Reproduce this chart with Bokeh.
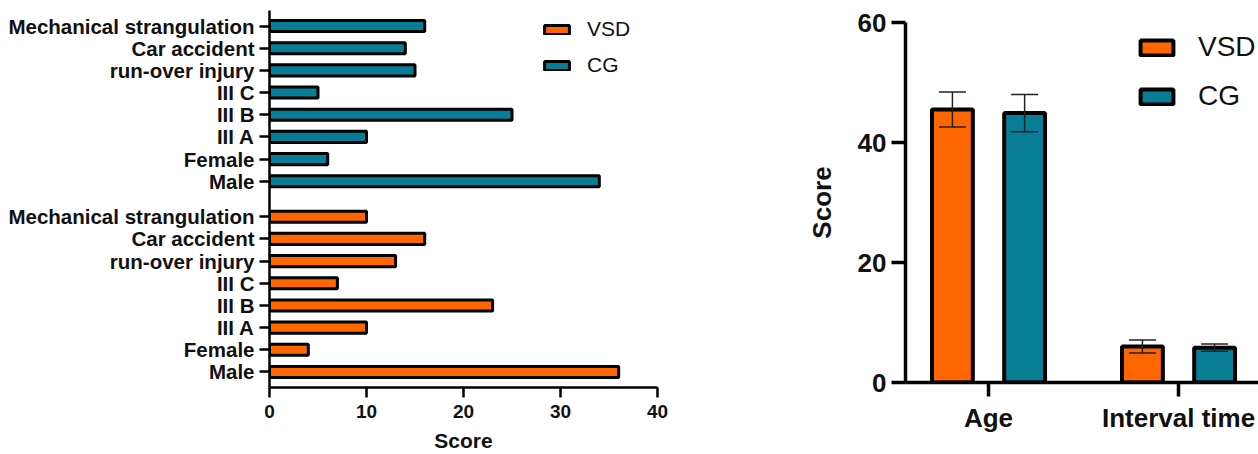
from bokeh.plotting import figure
from bokeh.models import (Range1d, FixedTicker, Legend, LegendItem, Whisker,
                          TeeHead, ColumnDataSource)
from bokeh.layouts import row
from bokeh.embed import file_html
from bokeh.resources import INLINE

# ---- data: case characteristics (counts) ----
categories = ["Male", "Female", "III A", "III B", "III C",
              "run-over injury", "Car accident", "Mechanical strangulation"]
vsd_counts = [36, 4, 10, 23, 7, 13, 16, 10]
cg_counts = [34, 6, 10, 25, 5, 15, 14, 16]

# ---- data: age and interval time (mean, SD) ----
groups = ["Age", "Interval time"]
vsd_mean = [45.5, 6.0]
vsd_sd = [2.9, 1.1]
cg_mean = [44.9, 5.8]
cg_sd = [3.1, 0.6]

ORANGE = "#FF6600"
TEAL = "#087D96"
FONT = "Liberation Sans"


def style_axes(p, size_ticks, size_title, lw, tick_out):
    for ax in (p.xaxis[0], p.yaxis[0]):
        ax.axis_line_width = lw
        ax.major_tick_line_width = lw
        ax.major_tick_out = tick_out
        ax.major_tick_in = 0
        ax.minor_tick_line_color = None
        ax.major_label_text_font = FONT
        ax.major_label_text_font_style = "bold"
        ax.major_label_text_font_size = size_ticks
        ax.major_label_text_color = "#111111"
        ax.axis_label_text_font = FONT
        ax.axis_label_text_font_style = "bold"
        ax.axis_label_text_font_size = size_title
        ax.axis_label_text_color = "#111111"
    p.xgrid.visible = False
    p.ygrid.visible = False
    p.outline_line_color = None


# ---------------- left: horizontal grouped counts ----------------
slot = 10
gap = 16
vsd_pos = [i * slot for i in range(len(categories))]
cg_pos = [vsd_pos[-1] + gap + i * slot for i in range(len(categories))]

pl = figure(width=700, height=454, output_backend="svg", toolbar_location=None,
            title=None, frame_align=False,
            x_range=Range1d(0, 40), y_range=Range1d(-7, cg_pos[-1] + 7),
            min_border_left=269, min_border_right=43,
            min_border_top=10, min_border_bottom=67)

r_vsd = pl.hbar(y=vsd_pos, right=vsd_counts, left=0, height=5,
                fill_color=ORANGE, line_color="black", line_width=3)
r_cg = pl.hbar(y=cg_pos, right=cg_counts, left=0, height=5,
               fill_color=TEAL, line_color="black", line_width=3)

style_axes(pl, "20.5px", "21px", 2.5, 10)
pl.xaxis.ticker = FixedTicker(ticks=[0, 10, 20, 30, 40])
pl.xaxis.axis_label = "Score"
pl.xaxis.major_label_text_font_size = "19px"
pl.xaxis.major_label_standoff = 7
pl.xaxis.axis_label_standoff = 8
pl.yaxis.ticker = FixedTicker(ticks=vsd_pos + cg_pos)
pl.yaxis.major_label_overrides = {pos: lab for pos, lab in
                                  zip(vsd_pos + cg_pos, categories + categories)}
pl.yaxis.major_label_standoff = 5

leg_l = Legend(items=[LegendItem(label="VSD", renderers=[r_vsd]),
                      LegendItem(label="CG", renderers=[r_cg])],
               location=(272, 310), glyph_width=31, glyph_height=11,
               label_text_font=FONT, label_text_font_size="21px",
               label_text_color="#111111", label_standoff=15, spacing=12,
               padding=0, margin=0, border_line_color=None,
               background_fill_alpha=0)
pl.add_layout(leg_l)

# ---------------- right: mean +/- SD bars ----------------
off = 0.19
bw = 0.215
xs = list(range(len(groups)))
x_vsd = [x - off for x in xs]
x_cg = [x + off for x in xs]

pr = figure(width=558, height=454, output_backend="svg", toolbar_location=None,
            title=None, frame_align=False,
            x_range=Range1d(-0.437, 1.421), y_range=Range1d(0, 60),
            min_border_left=205, min_border_right=0,
            min_border_top=22, min_border_bottom=72)

rb_vsd = pr.vbar(x=x_vsd, top=vsd_mean, bottom=0, width=bw,
                 fill_color=ORANGE, line_color="black", line_width=4)
rb_cg = pr.vbar(x=x_cg, top=cg_mean, bottom=0, width=bw,
                fill_color=TEAL, line_color="black", line_width=4)

err = ColumnDataSource(data=dict(
    x=x_vsd + x_cg,
    upper=[m + s for m, s in zip(vsd_mean + cg_mean, vsd_sd + cg_sd)],
    lower=[m - s for m, s in zip(vsd_mean + cg_mean, vsd_sd + cg_sd)],
))
pr.add_layout(Whisker(source=err, base="x", upper="upper", lower="lower",
                      line_color="#222222", line_width=1.5, level="annotation",
                      upper_head=TeeHead(size=27, line_width=1.5, line_color="#222222"),
                      lower_head=TeeHead(size=27, line_width=1.5, line_color="#222222")))

style_axes(pr, "26px", "26px", 3.5, 14)
pr.yaxis.ticker = FixedTicker(ticks=[0, 20, 40, 60])
pr.yaxis.axis_label = "Score"
pr.yaxis.major_label_standoff = 5
pr.yaxis.axis_label_standoff = 18
pr.xaxis.ticker = FixedTicker(ticks=xs)
pr.xaxis.major_label_overrides = {x: g for x, g in zip(xs, groups)}
pr.xaxis.major_label_standoff = 6

leg_r = Legend(items=[LegendItem(label="VSD", renderers=[rb_vsd]),
                      LegendItem(label="CG", renderers=[rb_cg])],
               location=(231, 270), glyph_width=41, glyph_height=19,
               label_text_font=FONT, label_text_font_size="28px",
               label_text_color="#111111", label_standoff=21, spacing=17,
               padding=0, margin=0, border_line_color=None,
               background_fill_alpha=0)
pr.add_layout(leg_r)

layout = row(pl, pr)
open("out.html", "w").write(file_html(layout, INLINE))
